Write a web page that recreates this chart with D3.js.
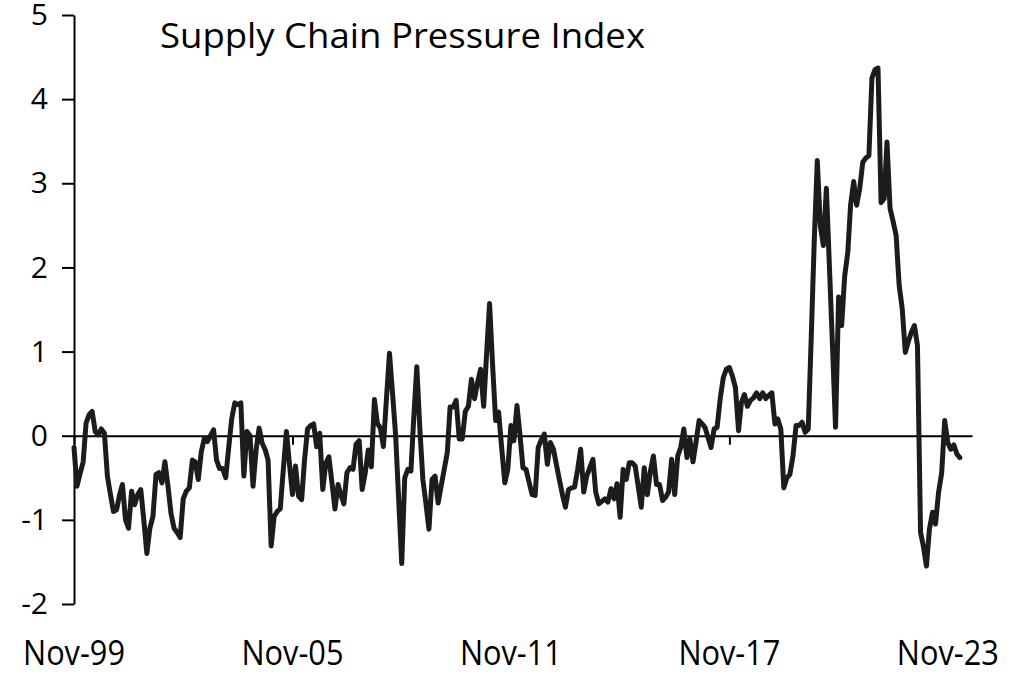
<!DOCTYPE html>
<html>
<head>
<meta charset="utf-8">
<script src="https://cdn.jsdelivr.net/npm/d3@7/dist/d3.min.js"></script>
<style>
body { margin: 0; background: #fff; }
</style>
</head>
<body>
<div></div>
<script>
var title = "Supply Chain Pressure Index",
	startMonth = "Nov-99",
	xTickLabels = ["Nov-99", "Nov-05", "Nov-11", "Nov-17", "Nov-23"],
	yTicks = [-2, -1, 0, 1, 2, 3, 4, 5];

// monthly index values, one row per year starting Nov-99
var gscpi = [
	-0.14, -0.6, -0.45, -0.31, 0.15, 0.25, 0.29, 0.05, 0.01, 0.08, 0.03, -0.48,
	-0.7, -0.9, -0.88, -0.7, -0.58, -1.0, -1.1, -0.66, -0.82, -0.7, -0.64, -1.0,
	-1.4, -1.1, -0.96, -0.46, -0.44, -0.56, -0.31, -0.6, -0.92, -1.1, -1.15, -1.21,
	-0.75, -0.66, -0.62, -0.29, -0.31, -0.52, -0.19, -0.03, -0.07, 0.0, 0.07, -0.29,
	-0.39, -0.39, -0.5, -0.13, 0.2, 0.39, 0.37, 0.39, -0.48, 0.05, 0.0, -0.6,
	-0.17, 0.09, -0.09, -0.17, -0.29, -1.31, -0.96, -0.9, -0.87, -0.4, 0.05, -0.33,
	-0.7, -0.36, -0.72, -0.76, -0.3, 0.08, 0.12, 0.14, -0.13, 0.03, -0.64, -0.33,
	-0.25, -0.55, -0.87, -0.58, -0.7, -0.81, -0.44, -0.38, -0.4, -0.1, -0.06, -0.64,
	-0.44, -0.17, -0.37, 0.43, 0.15, 0.09, -0.13, 0.45, 0.98, 0.5, 0.0, -0.75,
	-1.52, -0.5, -0.4, -0.42, 0.2, 0.82, 0.1, -0.52, -0.8, -1.11, -0.52, -0.48,
	-0.8, -0.6, -0.4, -0.2, 0.34, 0.34, 0.42, -0.04, -0.04, 0.29, 0.35, 0.67,
	0.44, 0.63, 0.79, 0.35, 0.95, 1.57, 0.85, 0.18, 0.28, -0.15, -0.56, -0.4,
	0.12, -0.06, 0.36, 0.0, -0.38, -0.4, -0.55, -0.7, -0.71, -0.14, -0.05, 0.02,
	-0.34, -0.08, -0.16, -0.35, -0.52, -0.7, -0.85, -0.64, -0.62, -0.61, -0.4, -0.16,
	-0.67, -0.48, -0.38, -0.28, -0.67, -0.81, -0.78, -0.75, -0.79, -0.63, -0.75, -0.57,
	-0.97, -0.4, -0.52, -0.32, -0.32, -0.36, -0.6, -0.85, -0.38, -0.7, -0.42, -0.24,
	-0.58, -0.58, -0.77, -0.73, -0.67, -0.28, -0.7, -0.24, -0.14, 0.08, -0.26, -0.04,
	-0.31, -0.08, 0.18, 0.14, 0.1, -0.02, -0.14, 0.08, 0.1, 0.44, 0.69, 0.79,
	0.81, 0.71, 0.57, 0.06, 0.39, 0.49, 0.35, 0.42, 0.45, 0.51, 0.44, 0.51,
	0.44, 0.48, 0.51, 0.14, 0.2, 0.08, -0.62, -0.5, -0.46, -0.24, 0.12, 0.12,
	0.16, 0.04, 0.08, 1.2, 2.3, 3.27, 2.5, 2.26, 2.94, 2.0, 1.05, 0.1,
	1.65, 1.31, 1.9, 2.18, 2.74, 3.02, 2.74, 2.94, 3.25, 3.3, 3.33, 4.25,
	4.35, 4.37, 2.77, 2.82, 3.49, 2.7, 2.55, 2.38, 1.79, 1.51, 0.99, 1.12,
	1.23, 1.31, 1.07, -1.15, -1.31, -1.55, -1.11, -0.91, -1.05, -0.67, -0.44, 0.18,
	-0.08, -0.16, -0.11, -0.22, -0.26
];

var svgContainer;
var parseMonth = d3.timeParse("%b-%y");

function onLoad() {
	svgContainer = d3.select("div")
	.append("svg")
	.attr("width", 1014)
	.attr("height", 678)
	.style("background", "#fff");

	var start = parseMonth(startMonth);

	// axis runs a few months past the last tick, like the original
	var x = d3.scaleTime()
		.domain([start, d3.timeMonth.offset(start, 296)])
		.range([74, 972]);

	var y = d3.scaleLinear()
		.domain([-2, 5])
		.range([604, 15]);

	// y axis, plain hyphen for negatives
	var yAxis = svgContainer.append("g")
		.attr("transform", "translate(74,0)")
		.call(d3.axisLeft(y)
			.tickValues(yTicks)
			.tickSize(12)
			.tickSizeOuter(0)
			.tickPadding(14)
			.tickFormat(function(d) { return String(d); }));
	yAxis.selectAll("path, line").attr("stroke", "#000").attr("stroke-width", 2);
	yAxis.selectAll("text")
		.attr("fill", "#000")
		.style("font-family", "'Open Sans', sans-serif")
		.style("font-size", "30px");

	// zero line with small ticks at each label date
	var tickDates = xTickLabels.map(parseMonth);
	var xAxis = svgContainer.append("g")
		.attr("transform", "translate(0," + y(0) + ")")
		.call(d3.axisBottom(x)
			.tickValues(tickDates)
			.tickSize(9)
			.tickSizeOuter(0)
			.tickFormat(""));
	xAxis.selectAll("path, line").attr("stroke", "#000").attr("stroke-width", 2);

	// month labels sit at the bottom, not on the zero line
	svgContainer.selectAll(".xlabel")
		.data(xTickLabels)
		.enter()
		.append("text")
		.attr("class", "xlabel")
		.attr("x", function(d) { return x(parseMonth(d)); })
		.attr("y", 665)
		.attr("text-anchor", "middle")
		.attr("textLength", 102)
		.attr("lengthAdjust", "spacingAndGlyphs")
		.style("font-family", "'Open Sans', sans-serif")
		.style("font-size", "34px")
		.text(function(d) { return d; });

	var line = d3.line()
		.x(function(d, i) { return x(d3.timeMonth.offset(start, i)); })
		.y(function(d) { return y(d); });

	svgContainer.append("path")
		.datum(gscpi)
		.attr("d", line)
		.attr("fill", "none")
		.attr("stroke", "#1b1c1c")
		.attr("stroke-width", 5)
		.attr("stroke-linejoin", "round")
		.attr("stroke-linecap", "round");

	svgContainer.append("text")
		.attr("x", 160)
		.attr("y", 48)
		.attr("textLength", 485)
		.attr("lengthAdjust", "spacingAndGlyphs")
		.style("font-family", "'Open Sans', sans-serif")
		.style("font-size", "34px")
		.attr("fill", "#000")
		.text(title);
}

onLoad();
</script>
</body>
</html>
